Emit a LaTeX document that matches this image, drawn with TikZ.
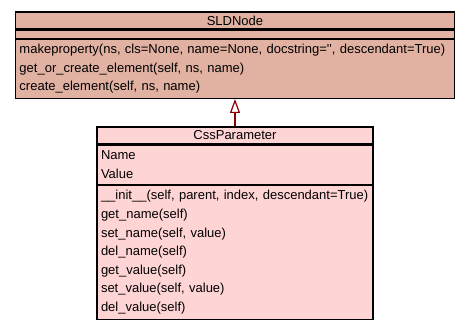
\documentclass[tikz,border=0pt]{standalone}
\usepackage{fontspec}
\setmainfont{Liberation Sans}
\usetikzlibrary{arrows.meta, positioning}
\definecolor{sldfill}{RGB}{225, 177, 162}
\definecolor{cssfill}{RGB}{255, 212, 212}
\definecolor{inhred}{RGB}{139, 0, 0}

\begin{document}
\begin{tikzpicture}[x=1pt, y=-1pt,
  umlpart/.style={draw=black, line width=1.2pt, inner xsep=4pt, inner ysep=0pt, font=\fontsize{13}{18.6}\selectfont},
  umltitle/.style={umlpart, minimum height=17pt, align=center},
  umlbody/.style={umlpart, align=left}
]
  \useasboundingbox (0,0) rectangle (469,328);

  % SLDNode class
  \node[umltitle, fill=sldfill, minimum width=439pt] (sld) at (235,20.5) {SLDNode};
  \node[umlbody, fill=sldfill, below=0pt of sld, minimum width=439pt, minimum height=8pt] (sldattr) {};
  \node[umlbody, fill=sldfill, below=0pt of sldattr, text width=431pt, minimum height=59pt] (sldmeth) {
    \mbox{makeproperty(ns, cls=None, name=None, docstring=\textquotesingle\textquotesingle, descendant=True)}\\
    get\_or\_create\_element(self, ns, name)\\
    create\_element(self, ns, name)
  };

  % CssParameter class
  \node[umltitle, fill=cssfill, minimum width=276pt] (css) at (235,135.5) {CssParameter};
  \node[umlbody, fill=cssfill, below=0pt of css, text width=268pt, minimum height=39pt] (cssattr) {
    Name\\
    Value
  };
  \node[umlbody, fill=cssfill, below=0pt of cssattr, text width=268pt, minimum height=134pt] (cssmeth) {
    \mbox{\_\_init\_\_(self, parent, index, descendant=True)}\\
    get\_name(self)\\
    set\_name(self, value)\\
    del\_name(self)\\
    get\_value(self)\\
    set\_value(self, value)\\
    del\_value(self)
  };

  \draw[inhred, line width=2.5pt, -{Triangle[width=10pt, length=14pt, fill=white, line width=1.2pt]}] (css.north) -- (sldmeth.south);
\end{tikzpicture}
\end{document}
